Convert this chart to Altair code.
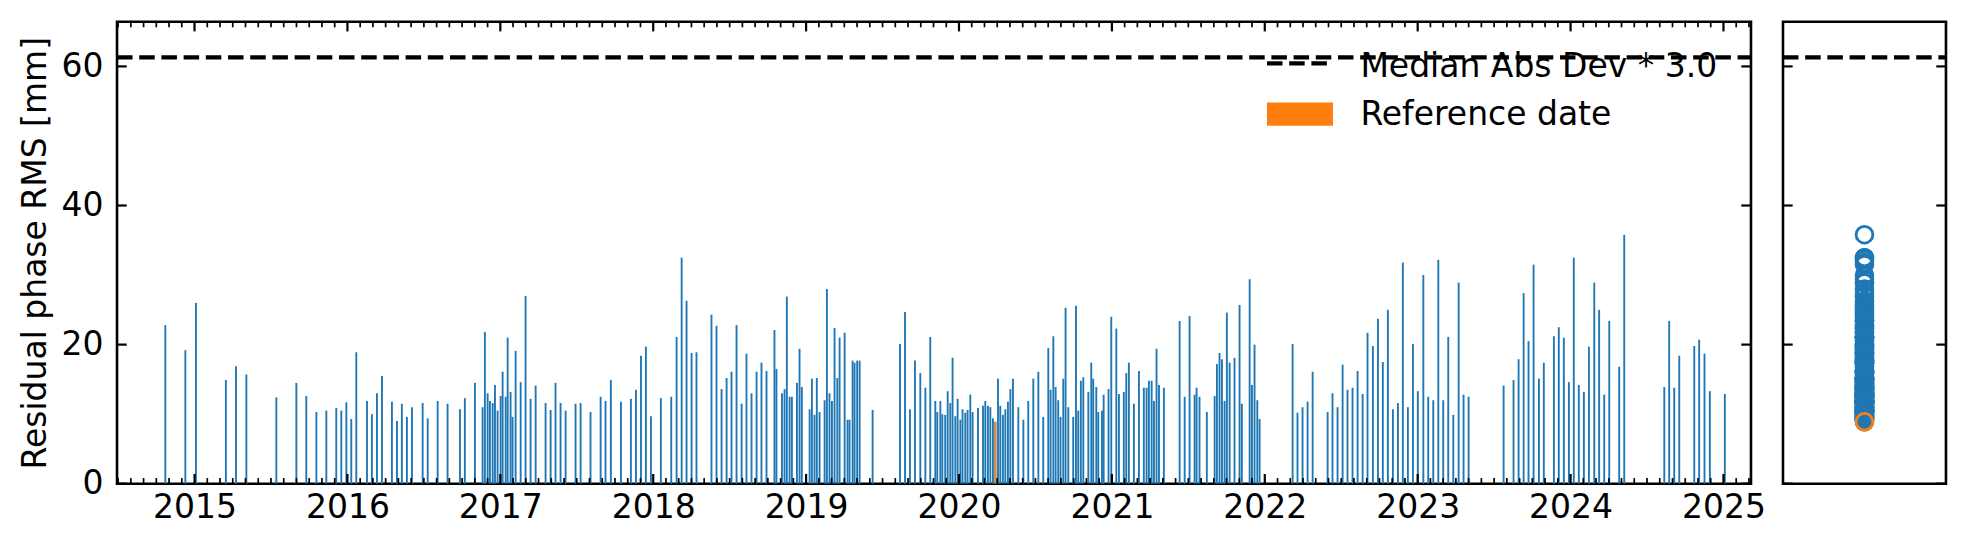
import altair as alt
import pandas as pd
import numpy as np

# ---------------- data (decimal year, residual phase RMS in mm) ----------------
dates = [
    2014.809, 2014.940, 2015.009, 2015.205, 2015.271, 2015.339, 2015.535, 2015.666, 2015.731, 2015.797,
    2015.862, 2015.927, 2015.960, 2015.993, 2016.025, 2016.058, 2016.128, 2016.160, 2016.193, 2016.226,
    2016.291, 2016.324, 2016.356, 2016.389, 2016.422, 2016.492, 2016.525, 2016.590, 2016.655, 2016.736,
    2016.768, 2016.834, 2016.884, 2016.899, 2016.917, 2016.932, 2016.950, 2016.965, 2016.982, 2017.002,
    2017.015, 2017.035, 2017.048, 2017.067, 2017.080, 2017.100, 2017.133, 2017.165, 2017.198, 2017.231,
    2017.296, 2017.329, 2017.361, 2017.394, 2017.427, 2017.492, 2017.525, 2017.590, 2017.656, 2017.688,
    2017.723, 2017.789, 2017.854, 2017.887, 2017.920, 2017.952, 2017.985,
    2018.050, 2018.118, 2018.153, 2018.186, 2018.218, 2018.251, 2018.283, 2018.381, 2018.414, 2018.447,
    2018.480, 2018.512, 2018.545, 2018.578, 2018.610, 2018.643, 2018.676, 2018.708, 2018.741, 2018.793,
    2018.806, 2018.842, 2018.859, 2018.874, 2018.892, 2018.907, 2018.940, 2018.957, 2018.972, 2019.023,
    2019.038, 2019.055, 2019.070, 2019.088, 2019.121, 2019.136, 2019.153, 2019.169, 2019.186, 2019.204,
    2019.219, 2019.252, 2019.271, 2019.284, 2019.304, 2019.317, 2019.334, 2019.350, 2019.435, 2019.614,
    2019.647, 2019.679, 2019.712, 2019.747, 2019.780,
    2019.812, 2019.845, 2019.858, 2019.878, 2019.891, 2019.910, 2019.926, 2019.943, 2019.958, 2019.976,
    2019.991, 2020.009, 2020.023, 2020.041, 2020.056, 2020.074, 2020.089, 2020.124, 2020.157, 2020.172,
    2020.189, 2020.205, 2020.222, 2020.238, 2020.255, 2020.270, 2020.287, 2020.303, 2020.320, 2020.336,
    2020.353, 2020.388, 2020.421, 2020.453, 2020.486, 2020.519, 2020.551, 2020.584, 2020.599, 2020.617,
    2020.632, 2020.649, 2020.664, 2020.682, 2020.697, 2020.715, 2020.747, 2020.765, 2020.780, 2020.797,
    2020.813, 2020.846, 2020.865, 2020.878, 2020.898, 2020.911, 2020.935, 2020.946, 2020.978, 2020.996,
    2021.029, 2021.046, 2021.078, 2021.094, 2021.111, 2021.144, 2021.177, 2021.209, 2021.227, 2021.242,
    2021.260, 2021.275, 2021.292, 2021.308, 2021.340, 2021.443, 2021.476, 2021.508, 2021.541, 2021.554,
    2021.573, 2021.621, 2021.672, 2021.687, 2021.704, 2021.720, 2021.737, 2021.752, 2021.770, 2021.802,
    2021.835, 2021.850, 2021.901, 2021.916, 2021.933, 2021.951, 2021.966, 2022.182, 2022.214, 2022.247,
    2022.280, 2022.313, 2022.411, 2022.443, 2022.476, 2022.509, 2022.541, 2022.574, 2022.607, 2022.640,
    2022.672, 2022.707, 2022.740, 2022.772, 2022.805, 2022.838, 2022.871, 2022.903, 2022.936, 2022.969,
    2023.001, 2023.037, 2023.069, 2023.102, 2023.135, 2023.167, 2023.200, 2023.233, 2023.268, 2023.300,
    2023.333,
    2023.562, 2023.627, 2023.660, 2023.693, 2023.725, 2023.758, 2023.793, 2023.825, 2023.891, 2023.923,
    2023.956, 2023.989, 2024.021, 2024.054, 2024.087, 2024.120, 2024.155, 2024.187, 2024.220, 2024.253,
    2024.318, 2024.351, 2024.613, 2024.645, 2024.678, 2024.711, 2024.809, 2024.841, 2024.876, 2024.911,
    2025.009,
]
rms = [
    22.8, 19.2, 26.0, 14.9, 16.9, 15.7, 12.4, 14.5, 12.6, 10.3,
    10.5, 10.9, 10.5, 11.7, 9.3, 18.9, 11.9, 10.0, 13.0, 15.5,
    11.8, 9.0, 11.5, 9.6, 11.0, 11.6, 9.4, 11.9, 11.5, 10.7,
    12.3, 14.5, 11.0, 21.8, 13.0, 11.9, 11.6, 14.2, 10.5, 12.6,
    16.1, 12.5, 21.0, 13.2, 9.6, 19.1, 14.6, 27.0, 12.2, 14.1,
    11.6, 10.6, 14.5, 11.6, 10.5, 11.5, 11.6, 10.3, 12.5, 11.9,
    14.9, 11.8, 12.2, 13.5, 18.4, 19.7, 9.7,
    12.3, 12.5, 21.1, 32.5, 26.3, 18.8, 18.9, 24.3, 22.7, 13.6,
    15.2, 16.1, 22.8, 11.5, 18.7, 13.0, 16.1, 17.4, 16.2, 22.1,
    16.5, 13.0, 13.6, 26.9, 12.5, 12.5, 14.5, 19.4, 13.9, 10.7,
    15.1, 9.9, 15.2, 10.3, 12.0, 28.0, 13.0, 11.9, 22.4, 15.2,
    21.0, 21.7, 9.2, 9.2, 17.7, 17.4, 17.7, 17.7, 10.6, 20.1,
    24.7, 10.7, 17.7, 15.9, 13.8,
    21.1, 11.9, 10.3, 11.9, 10.0, 9.9, 13.3, 11.6, 18.1, 9.7,
    12.2, 9.2, 10.7, 10.2, 10.6, 12.8, 10.3, 10.9, 11.2, 11.9,
    11.2, 11.0, 9.4, 8.9, 15.1, 11.2, 9.9, 10.7, 11.8, 13.6,
    15.1, 11.0, 9.2, 11.9, 15.1, 16.1, 9.6, 19.5, 13.5, 21.2,
    13.9, 12.0, 9.6, 15.1, 25.3, 11.0, 9.6, 25.6, 10.5, 14.8,
    15.3, 13.2, 17.4, 15.1, 13.9, 10.3, 10.5, 12.8, 13.6, 24.0,
    22.3, 12.9, 13.2, 15.9, 17.4, 11.5, 16.2, 13.8, 13.8, 14.8,
    14.8, 11.9, 19.4, 14.2, 13.8, 23.4, 12.5, 24.1, 12.8, 13.8,
    12.5, 10.3, 12.6, 17.2, 18.8, 17.9, 11.9, 24.6, 17.4, 18.1,
    25.7, 11.5, 29.4, 14.2, 20.0, 12.0, 9.3, 20.1, 10.2, 11.0,
    11.8, 16.1, 10.3, 13.0, 11.0, 17.1, 13.5, 13.8, 16.2, 12.9,
    21.7, 19.8, 23.7, 17.5, 25.0, 10.7, 11.6, 31.8, 11.0, 20.1,
    13.3, 30.0, 12.5, 12.0, 32.2, 12.0, 21.1, 9.9, 28.9, 12.8,
    12.5,
    14.1, 14.9, 17.9, 27.4, 20.5, 31.5, 15.1, 17.4, 21.2, 22.5,
    21.0, 14.6, 32.5, 14.2, 13.2, 19.7, 28.9, 25.0, 12.8, 23.4,
    16.8, 35.8, 13.9, 23.4, 13.8, 18.4, 19.8, 20.7, 18.7, 13.3,
    12.9,
]
ref_date = 2020.238
threshold = 61.3
threshold_label = "Median Abs Dev * 3.0"
ref_label = "Reference date"
y_title = "Residual phase RMS [mm]"
year_ticks = list(range(2015, 2026))
y_ticks = [0, 20, 40, 60]

# ---------------- style ----------------
BLUE = "#1f77b4"
ORANGE = "#ff7f0e"
FONT = "DejaVu Sans"
FS = 33
X_DOMAIN = [2014.493, 2025.180]
Y_DOMAIN = [0, 66.43]
BAR_W = 4.5 / 365.25
W, H = 1634, 462
SIDE_W = 163
MAJ, MINL = 9.7, 5.6
MAJ_W, MIN_W = 2.2, 1.7
DASH = [15.5, 6.7]
LW = 4.2

df = pd.DataFrame({"date": dates, "rms": rms})
df["x0"] = df["date"] - BAR_W / 2
df["x1"] = df["date"] + BAR_W / 2
df["base"] = 0.0
ref_df = df[np.isclose(df["date"], ref_date, rtol=0, atol=1e-4)]
thr_df = pd.DataFrame({"x0": [X_DOMAIN[0]], "x1": [X_DOMAIN[1]], "v": [threshold]})
minor_ticks = [round(y + m / 12, 4) for y in range(2014, 2026) for m in range(1, 12)
               if X_DOMAIN[0] < y + m / 12 < X_DOMAIN[1]]

xscale = alt.Scale(domain=X_DOMAIN, nice=False, zero=False)
yscale = alt.Scale(domain=Y_DOMAIN, nice=False, zero=False)

x_axis = alt.Axis(values=year_ticks, format="d", ticks=False, tickSize=0, domain=False, grid=False,
                  labelFontSize=FS, labelFont=FONT, labelColor="black", labelPadding=8,
                  labelFlush=False, labelOverlap=False, labelBound=False, title=None)
y_axis = alt.Axis(values=y_ticks, format="d", ticks=False, tickSize=0, domain=False, grid=False,
                  labelFontSize=FS, labelFont=FONT, labelColor="black", labelPadding=14,
                  labelFlush=False, labelOverlap=False, labelBound=False,
                  title=y_title, titleFontSize=FS, titleFont=FONT, titleFontWeight="normal",
                  titleColor="black", titlePadding=9)


def X(field):
    return alt.X(field, type="quantitative", scale=xscale, axis=x_axis)


def Y(field):
    return alt.Y(field, type="quantitative", scale=yscale, axis=y_axis)


def x_tick_rules(values, y0, y1, width):
    return alt.Chart(pd.DataFrame({"t": values})).mark_rule(color="black", strokeWidth=width).encode(
        x=X("t"), y=alt.value(y0), y2=alt.value(y1))


def y_tick_rules(values, x0, x1, width):
    return alt.Chart(pd.DataFrame({"t": values})).mark_rule(color="black", strokeWidth=width).encode(
        y=Y("t"), x=alt.value(x0), x2=alt.value(x1))


bars = alt.Chart(df).mark_bar(color=BLUE).encode(x=X("x0"), x2="x1", y=Y("rms"), y2="base")
ref_bar = alt.Chart(ref_df).mark_bar(color=ORANGE).encode(x=X("x0"), x2="x1", y=Y("rms"), y2="base")
thr_rule = alt.Chart(thr_df).mark_rule(color="black", strokeWidth=LW, strokeDash=DASH).encode(
    x=X("x0"), x2="x1", y=Y("v"))

# inward ticks on all four sides (matplotlib style)
main_ticks = [
    x_tick_rules(minor_ticks, H, H - MINL, MIN_W),
    x_tick_rules(year_ticks, H, H - MAJ, MAJ_W),
    x_tick_rules(minor_ticks, 0, MINL, MIN_W),
    x_tick_rules(year_ticks, 0, MAJ, MAJ_W),
    y_tick_rules(y_ticks, 0, MAJ, MAJ_W),
    y_tick_rules(y_ticks, W - MAJ, W, MAJ_W),
]

# legend (frameless, upper right like matplotlib)
leg_line = alt.Chart(thr_df).mark_rule(color="black", strokeWidth=LW, strokeDash=DASH).encode(
    x=alt.value(1150), x2=alt.value(1216), y=alt.value(41.7))
leg_patch = alt.Chart(thr_df).mark_rect(color=ORANGE).encode(
    x=alt.value(1150), x2=alt.value(1216), y=alt.value(80.7), y2=alt.value(104))
leg_text1 = alt.Chart(thr_df).mark_text(
    align="left", baseline="alphabetic", font=FONT, fontSize=FS, color="black",
    text=threshold_label).encode(x=alt.value(1243.4), y=alt.value(55.0))
leg_text2 = alt.Chart(thr_df).mark_text(
    align="left", baseline="alphabetic", font=FONT, fontSize=FS, color="black",
    text=ref_label).encode(x=alt.value(1243.4), y=alt.value(103.3))

main = alt.layer(bars, ref_bar, thr_rule, *main_ticks, leg_line, leg_patch, leg_text1, leg_text2
                 ).properties(width=W, height=H)

# side panel: all RMS values as open circles
side_scale = alt.Scale(domain=[0, 1], nice=False, zero=False)


def SY(field):
    return alt.Y(field, type="quantitative", scale=yscale, axis=None)


def side_tick_rules(values, x0, x1, width):
    return alt.Chart(pd.DataFrame({"t": values})).mark_rule(color="black", strokeWidth=width).encode(
        y=SY("t"), x=alt.value(x0), x2=alt.value(x1))


pts = alt.Chart(df).transform_calculate(xs="0.5").mark_point(
    shape="circle", filled=False, size=280, strokeWidth=2.8, color=BLUE, opacity=1).encode(
    x=alt.X("xs:Q", scale=side_scale, axis=None), y=SY("rms"))
ref_pt = alt.Chart(ref_df).transform_calculate(xs="0.5").mark_point(
    shape="circle", filled=False, size=280, strokeWidth=2.8, color=ORANGE, opacity=1).encode(
    x=alt.X("xs:Q", scale=side_scale, axis=None), y=SY("rms"))
side_thr = alt.Chart(pd.DataFrame({"a": [0.0], "b": [1.0], "v": [threshold]})).mark_rule(
    color="black", strokeWidth=LW, strokeDash=DASH).encode(
    x=alt.X("a:Q", scale=side_scale, axis=None), x2="b", y=SY("v"))
side_ticks = [
    side_tick_rules(y_ticks, 0, MAJ, MAJ_W),
    side_tick_rules(y_ticks, SIDE_W - MAJ, SIDE_W, MAJ_W),
]
side = alt.layer(pts, ref_pt, side_thr, *side_ticks).properties(width=SIDE_W, height=H)

chart = alt.hconcat(main, side, spacing=32, bounds="flush").properties(
    padding={"left": 9, "top": 10.7, "right": 5, "bottom": 5},
    background="white",
).configure_view(stroke="black", strokeWidth=2.6)

chart.save("out.html", embed_options={"renderer": "svg", "actions": False})
